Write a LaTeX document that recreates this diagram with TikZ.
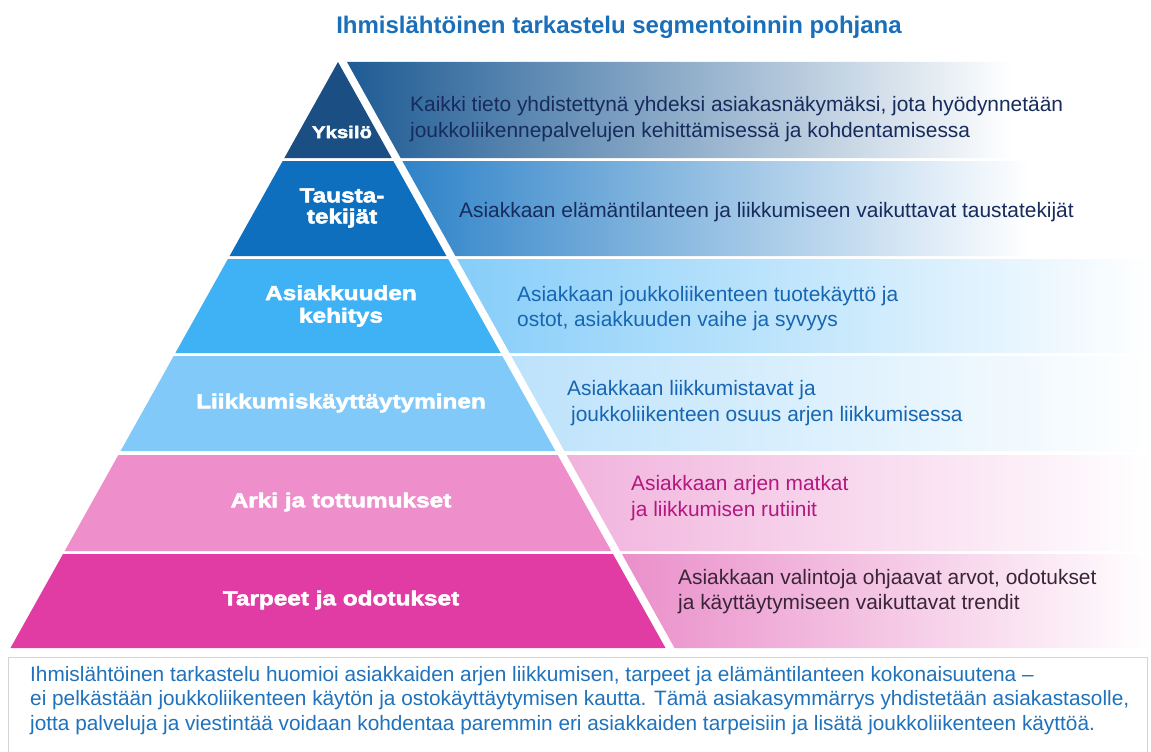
\documentclass[tikz,border=0pt]{standalone}
\usepackage{fontspec}
\setmainfont{Liberation Sans}
\newfontfamily\labfont[FakeStretch=1.2,FakeBold=2.5]{Liberation Sans Bold}
\definecolor{cA}{HTML}{1B4F84}
\definecolor{cB}{HTML}{0E6FBF}
\definecolor{cC}{HTML}{3FB2F5}
\definecolor{cD}{HTML}{80C9F8}
\definecolor{cE}{HTML}{EE8ECB}
\definecolor{cF}{HTML}{E13CA3}
\definecolor{gA1}{HTML}{1E5B94}
\definecolor{gA2}{HTML}{8DAAC7}
\definecolor{gB1}{HTML}{2F83C8}
\definecolor{gB2}{HTML}{B3D3EC}
\definecolor{gC1}{HTML}{86CDF9}
\definecolor{gC2}{HTML}{D3ECFB}
\definecolor{gD1}{HTML}{BCE2FB}
\definecolor{gD2}{HTML}{E4F3FD}
\definecolor{gE1}{HTML}{F1B3DD}
\definecolor{gE2}{HTML}{F9DDEF}
\definecolor{gF1}{HTML}{EA8FCA}
\definecolor{gF2}{HTML}{F7D5EB}
\definecolor{tNavy}{HTML}{172B5C}
\definecolor{tBlue}{HTML}{1766B2}
\definecolor{tMag}{HTML}{B3187E}
\definecolor{tDark}{HTML}{3A2538}
\definecolor{titleBlue}{HTML}{1A6FBA}
\definecolor{noteBlue}{HTML}{1F72BB}
\definecolor{boxGray}{HTML}{D4D4D4}
\def\pk{0.5589}
\begin{document}
\begin{tikzpicture}[x=1pt,y=-1pt,
  lab/.style={font=\labfont\fontsize{20.3}{22.5}\selectfont, text=white, align=center, inner sep=0pt},
  desc/.style={font=\fontsize{20.9}{25.5}\selectfont, anchor=west, align=left, inner sep=0pt},
  note/.style={font=\fontsize{20.8}{24.5}\selectfont, anchor=west, align=left, inner sep=0pt, text=noteBlue}]
\useasboundingbox (0,0) rectangle (1151,752);
\fill[white] (0,0) rectangle (1151,752);
% pyramid layers and right bands
\foreach \t/\b/\fc/\lc/\mc/\r in {62/158/cA/gA1/gA2/1012, 161/256/cB/gB1/gB2/1030, 259/353/cC/gC1/gC2/1151, 356/451/cD/gD1/gD2/1151, 455/551/cE/gE1/gE2/1151, 554/648/cF/gF1/gF2/1151}{
  \fill[\fc] ({338-\pk*(\t-62)},\t) -- ({338+\pk*(\t-62)},\t) -- ({338+\pk*(\b-62)},\b) -- ({338-\pk*(\b-62)},\b) -- cycle;
  \shade[left color=\lc, middle color=\mc, right color=white] ({347+\pk*(\t-62)},\t) -- (\r,\t) -- (\r,\b) -- ({347+\pk*(\b-62)},\b) -- cycle;
}
% title
\node (title) at (619,27) {\fontsize{24}{27}\selectfont\bfseries\color{titleBlue}Ihmislähtöinen tarkastelu segmentoinnin pohjana};
% pyramid labels
\node[lab, font=\labfont\fontsize{17}{20}\selectfont] (l1) at (342,132) {Yksilö};
\node[lab, font=\labfont\fontsize{20.3}{21}\selectfont] (l2) at (342,208) {Tausta-\\tekijät};
\node[lab] (l3) at (341,306) {Asiakkuuden\\kehitys};
\node[lab] (l4) at (341,403) {Liikkumiskäyttäytyminen};
\node[lab] (l5) at (341,502) {Arki ja tottumukset};
\node[lab] (l6) at (341,600) {Tarpeet ja odotukset};
% descriptions
\node[desc, text=tNavy] (d1) at (410,119) {Kaikki tieto yhdistettynä yhdeksi asiakasnäkymäksi, jota hyödynnetään\\joukkoliikennepalvelujen kehittämisessä ja kohdentamisessa};
\node[desc, text=tNavy] (d2) at (459,212) {Asiakkaan elämäntilanteen ja liikkumiseen vaikuttavat taustatekijät};
\node[desc, text=tBlue] (d3) at (517,308.5) {Asiakkaan joukkoliikenteen tuotekäyttö ja\\ostot, asiakkuuden vaihe ja syvyys};
\node[desc, text=tBlue] (d4) at (567,403) {Asiakkaan liikkumistavat ja\\\hspace*{4pt}joukkoliikenteen osuus arjen liikkumisessa};
\node[desc, text=tMag] (d5) at (631,498) {Asiakkaan arjen matkat\\ja liikkumisen rutiinit};
\node[desc, text=tDark] (d6) at (678,591.5) {Asiakkaan valintoja ohjaavat arvot, odotukset\\ja käyttäytymiseen vaikuttavat trendit};
% bottom note box
\draw[boxGray, line width=1pt] (8.5,657.5) rectangle (1147,760);
\node[note] (notetext) at (30,700.5) {Ihmislähtöinen tarkastelu huomioi asiakkaiden arjen liikkumisen, tarpeet ja elämäntilanteen kokonaisuutena –\\ei pelkästään joukkoliikenteen käytön ja ostokäyttäytymisen kautta. Tämä asiakasymmärrys yhdistetään asiakastasolle,\\jotta palveluja ja viestintää voidaan kohdentaa paremmin eri asiakkaiden tarpeisiin ja lisätä joukkoliikenteen käyttöä.};
\end{tikzpicture}
\end{document}
